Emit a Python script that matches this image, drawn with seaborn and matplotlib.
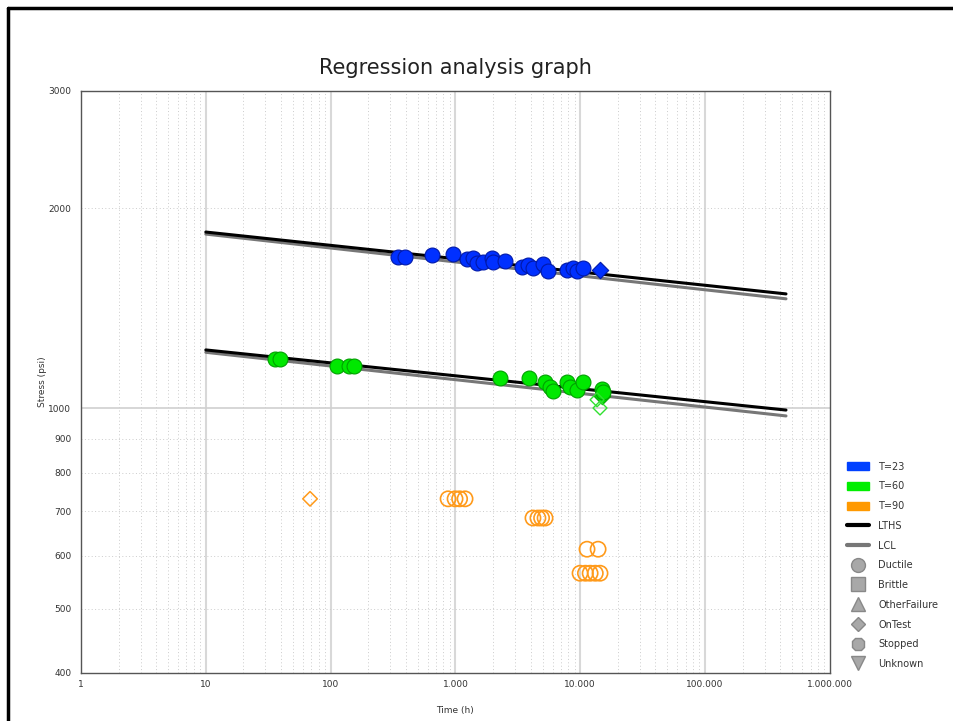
import numpy as np
import pandas as pd
import matplotlib
matplotlib.use("Agg")
import matplotlib.pyplot as plt
import seaborn as sns
from matplotlib.lines import Line2D
from matplotlib.patches import Patch
from matplotlib.ticker import FixedLocator, FuncFormatter, NullFormatter

sns.set_style("white")
plt.rcParams['font.family'] = ['DejaVu Sans']

# --- data ---
# T=23 (blue), filled circles = ductile
t23_time = [347, 395, 650, 957, 1240, 1380, 1490, 1660, 1970, 2000,
            2500, 3400, 3800, 4200, 5030, 5500, 7800, 8700, 9400, 10500]
t23_stress = [1689, 1689, 1701, 1707, 1677, 1683, 1654, 1660, 1683, 1660,
              1666, 1631, 1643, 1625, 1648, 1607, 1613, 1624, 1607, 1624]
t23_ontest_time = [14400]
t23_ontest_stress = [1613]

# T=60 (green)
t60_time = [35.8, 39.3, 113, 140, 154, 2277, 3890, 5225, 5730, 6030,
            7840, 8280, 9420, 10520, 14950, 15200]
t60_stress = [1187, 1187, 1159, 1159, 1159, 1111, 1111, 1096, 1077, 1062,
              1096, 1077, 1066, 1096, 1071, 1058]
t60_ontest_time = [14800]
t60_ontest_stress = [1042]
t60_excl_time = [13640, 14400]
t60_excl_stress = [1030, 1001]

# T=90 (orange), open markers
t90_time = [873, 993, 1080, 1194, 4180, 4580, 4900, 5225, 11330, 13900,
            9960, 11000, 12000, 13200, 14400]
t90_stress = [731, 731, 731, 731, 684, 684, 684, 684, 614, 614,
              565, 565, 565, 565, 565]
t90_ontest_time = [68.4]
t90_ontest_stress = [731]

# regression lines (value at start / end time)
line_time = [10, 445000]
lths_23 = [1841, 1486]
lcl_23 = [1828, 1461]
lths_60 = [1224, 994]
lcl_60 = [1214, 974]

x_ticks = [1, 10, 100, 1000, 10000, 100000, 1000000]
y_ticks = [400, 500, 600, 700, 800, 900, 1000, 2000, 3000]
legend_labels = ["T=23", "T=60", "T=90", "LTHS", "LCL", "Ductile", "Brittle",
                 "OtherFailure", "OnTest", "Stopped", "Unknown"]

blue, blue_edge = "#0030ff", "#0018a8"
green, green_edge = "#00e800", "#00a000"
orange = "#ff9a1a"

fig = plt.figure(figsize=(9.54, 7.21), dpi=100)
ax = fig.add_axes([0.0849, 0.0666, 0.785, 0.8072])

# regression lines
for vals, col in [(lcl_23, "#777777"), (lths_23, "black"),
                  (lcl_60, "#777777"), (lths_60, "black")]:
    df_line = pd.DataFrame({"time": line_time, "stress": vals})
    sns.lineplot(data=df_line, x="time", y="stress", color=col, lw=2.2,
                 estimator=None, ax=ax, zorder=3)

# points
def pts(t, s):
    return pd.DataFrame({"time": t, "stress": s})

sns.scatterplot(data=pts(t23_time, t23_stress), x="time", y="stress", marker="o",
                s=115, color=blue, edgecolor=blue_edge, linewidth=0.8, ax=ax, zorder=4)
sns.scatterplot(data=pts(t23_ontest_time, t23_ontest_stress), x="time", y="stress",
                marker="D", s=70, color=blue, edgecolor=blue_edge, linewidth=0.8,
                ax=ax, zorder=4)
sns.scatterplot(data=pts(t60_ontest_time, t60_ontest_stress), x="time", y="stress",
                marker="D", s=70, color=green, edgecolor=green_edge, linewidth=0.8,
                ax=ax, zorder=4)
sns.scatterplot(data=pts(t60_time, t60_stress), x="time", y="stress", marker="o",
                s=115, color=green, edgecolor=green_edge, linewidth=0.8, ax=ax, zorder=4)
ax.scatter(t60_excl_time, t60_excl_stress, marker="D", s=50, facecolors="none",
           edgecolors="#30e030", linewidths=1.0, zorder=4)
ax.scatter(t90_time, t90_stress, marker="o", s=120, facecolors="none",
           edgecolors=orange, linewidths=1.2, zorder=4)
ax.scatter(t90_ontest_time, t90_ontest_stress, marker="D", s=55, facecolors="none",
           edgecolors=orange, linewidths=1.1, zorder=4)

# axes
ax.set_xscale("log")
ax.set_yscale("log")
ax.set_xlim(1, 1e6)
ax.set_ylim(400, 3000)

minor_x = [m * 10 ** d for d in range(6) for m in range(2, 10)]
ax.xaxis.set_major_locator(FixedLocator(x_ticks))
ax.xaxis.set_minor_locator(FixedLocator(minor_x))
ax.xaxis.set_major_formatter(FuncFormatter(lambda v, p: f"{int(round(v)):,}".replace(",", ".")))
ax.xaxis.set_minor_formatter(NullFormatter())

ax.yaxis.set_major_locator(FixedLocator(y_ticks))
ax.yaxis.set_minor_locator(FixedLocator([]))
ax.yaxis.set_major_formatter(FuncFormatter(lambda v, p: f"{int(v)}"))
ax.yaxis.set_minor_formatter(NullFormatter())

ax.tick_params(axis="x", which="major", direction="in", length=5, width=0.8,
               labelsize=6.5, colors="#333333", pad=5)
ax.tick_params(axis="x", which="minor", direction="in", length=3, width=0.6,
               colors="#333333")
ax.tick_params(axis="y", which="major", direction="out", length=4, width=0.6,
               labelsize=6.5, colors="#333333", pad=3)

# grid
ax.grid(False)
for xv in x_ticks[1:-1]:
    ax.axvline(xv, color="#d8d8d8", lw=1.5, zorder=1)
for xv in minor_x:
    ax.axvline(xv, color="#cccccc", lw=0.7, ls=(0, (1, 2.5)), zorder=1)
for yv in y_ticks[1:-1]:
    if yv == 1000:
        ax.axhline(yv, color="#d0d0d0", lw=1.2, zorder=1)
    else:
        ax.axhline(yv, color="#cccccc", lw=0.7, ls=(0, (1, 2.5)), zorder=1)

for sp in ax.spines.values():
    sp.set_color("#555555")
    sp.set_linewidth(1.0)

ax.set_xlabel("Time (h)", fontsize=6.5, color="#333333", labelpad=12)
ax.set_ylabel("Stress (psi)", fontsize=6.5, color="#333333", labelpad=1)
ax.set_title("Regression analysis graph", fontsize=15, color="#222222", pad=12)

# legend
gray_m = dict(color="w", markerfacecolor="#a8a8a8", markeredgecolor="#888888",
              markersize=10, lw=0)
handles = [
    Patch(facecolor="#0040ff", edgecolor="#0040ff"),
    Patch(facecolor="#00ee00", edgecolor="#00ee00"),
    Patch(facecolor="#ff9900", edgecolor="#ff9900"),
    Line2D([], [], color="black", lw=3),
    Line2D([], [], color="#777777", lw=3),
    Line2D([], [], marker="o", **gray_m),
    Line2D([], [], marker="s", **gray_m),
    Line2D([], [], marker="^", **gray_m),
    Line2D([], [], marker="D", **dict(gray_m, markersize=7)),
    Line2D([], [], marker="8", **gray_m),
    Line2D([], [], marker="v", **gray_m),
]
leg = fig.legend(handles, legend_labels, loc="upper left",
                 bbox_to_anchor=(0.884, 0.365), frameon=False, fontsize=7,
                 handlelength=2.2, handleheight=0.9, labelspacing=1.0,
                 handletextpad=1.0, borderaxespad=0)
for txt in leg.get_texts():
    txt.set_color("#333333")

# outer frame (left and top edges)
fig.add_artist(Line2D([0.0084, 0.0084], [0, 0.989], color="black", lw=2.5,
                      transform=fig.transFigure))
fig.add_artist(Line2D([0.0084, 1.0], [0.989, 0.989], color="black", lw=2.5,
                      transform=fig.transFigure))

fig.savefig("out.png", dpi=100)
